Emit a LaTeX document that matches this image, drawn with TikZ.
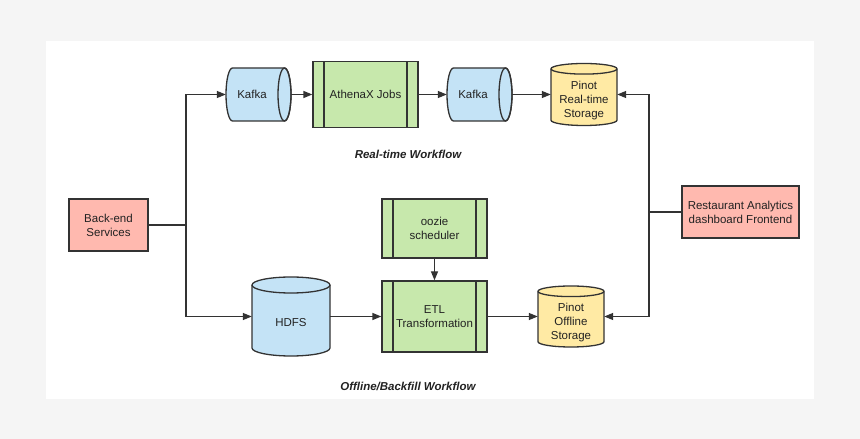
\documentclass[tikz,border=0pt]{standalone}
\usepackage{fontspec}
\setmainfont{Liberation Sans}
\usetikzlibrary{arrows.meta}
\definecolor{bg}{HTML}{F5F5F5}
\definecolor{linec}{HTML}{333333}
\definecolor{txt}{HTML}{222222}
\definecolor{pinkc}{HTML}{FFB9AF}
\definecolor{bluc}{HTML}{C4E3F6}
\definecolor{grnc}{HTML}{C7E8AC}
\definecolor{yelc}{HTML}{FFEAA4}
\tikzset{
  ln/.style={draw=linec, line width=1.3pt},
  cylstyle/.style={draw=linec, line width=1.3pt},
  boxc/.style={ln, rectangle, inner sep=0pt, align=center, text=txt},
  procbox/.style={boxc, fill=grnc, path picture={
    \draw[linec, line width=1.3pt] ([xshift=11pt]path picture bounding box.north west) -- ([xshift=11pt]path picture bounding box.south west);
    \draw[linec, line width=1.3pt] ([xshift=-11pt]path picture bounding box.north east) -- ([xshift=-11pt]path picture bounding box.south east);}},
  conn/.style={ln, -{Triangle[length=9pt,width=7pt]}},
  flowlabel/.style={text=txt, font=\fontsize{11.5}{14}\selectfont\bfseries\itshape}
}
% horizontal cylinder: name, cx, cy, half width, half height, text
\newcommand{\hcylinder}[6]{%
  \begin{scope}[shift={(#2,#3)}]
    \filldraw[cylstyle, fill=bluc] (-#4+6.5,#5) arc[start angle=90,end angle=270,x radius=6.5,y radius=#5] -- (#4-6.5,-#5) arc[start angle=-90,end angle=90,x radius=6.5,y radius=#5] -- cycle;
    \draw[cylstyle] (#4-6.5,0) ellipse[x radius=6.5,y radius=#5];
    \node[inner sep=0pt, minimum width=2*#4, minimum height=2*#5] (#1) at (0,0) {};
    \node[text=txt] (#1-t) at (-6.5,0) {#6};
  \end{scope}}
% vertical cylinder: name, cx, cy, half width, half height, ellipse ry, fill, text
\newcommand{\vcylinder}[8]{%
  \begin{scope}[shift={(#2,#3)}]
    \filldraw[cylstyle, fill=#7] (-#4,#5-#6) -- (-#4,-#5+#6) arc[start angle=180,end angle=360,x radius=#4,y radius=#6] -- (#4,#5-#6) arc[start angle=0,end angle=180,x radius=#4,y radius=#6] -- cycle;
    \draw[cylstyle] (-#4,#5-#6) arc[start angle=180,end angle=360,x radius=#4,y radius=#6];
    \node[inner sep=0pt, minimum width=2*#4, minimum height=2*#5] (#1) at (0,0) {};
    \node[text=txt, align=center] (#1-t) at (0,-6) {#8};
  \end{scope}}
\begin{document}
\begin{tikzpicture}[x=1pt, y=1pt, font=\fontsize{11.5}{14}\selectfont]
\useasboundingbox (0,0) rectangle (860,439);
\fill[bg] (0,0) rectangle (860,439);
\fill[white] (46,40) rectangle (814,398);

% nodes
\node[boxc, fill=pinkc, minimum width=79, minimum height=52] (be) at (108.5,214) {Back-end\\Services};
\node[boxc, fill=pinkc, minimum width=117, minimum height=52] (ra) at (740.5,227) {Restaurant Analytics\\dashboard Frontend};
\hcylinder{k1}{258.5}{344.5}{32.5}{26.5}{Kafka}
\node[procbox, minimum width=105, minimum height=66] (ax) at (365.5,344.5) {AthenaX Jobs};
\hcylinder{k2}{479.5}{344.5}{32.5}{26.5}{Kafka}
\vcylinder{prt}{584}{344.5}{33}{31}{5.3}{yelc}{Pinot\\Real-time\\Storage}
\node[procbox, minimum width=105, minimum height=59] (oz) at (434.5,210.5) {oozie\\scheduler};
\node[procbox, minimum width=105, minimum height=71] (etl) at (434.5,122.5) {ETL\\Transformation};
\vcylinder{hdfs}{291}{122.5}{39}{39.5}{8}{bluc}{HDFS}
\vcylinder{pof}{571}{122.5}{33}{30.5}{5.3}{yelc}{Pinot\\Offline\\Storage}
\node[flowlabel] (rtl) at (408,285) {Real-time Workflow};
\node[flowlabel] (ofl) at (408,53) {Offline/Backfill Workflow};

% connectors
\coordinate (j1) at (186,214);
\coordinate (j2) at (649,227);
\draw[ln] (be.east) -- (j1);
\draw[conn] (j1) |- (k1.west);
\draw[conn] (j1) |- (hdfs.west);
\draw[conn] (k1.east) -- (ax.west);
\draw[conn] (ax.east) -- (k2.west);
\draw[conn] (k2.east) -- (prt.west);
\draw[conn] (hdfs.east) -- (etl.west);
\draw[conn] (etl.east) -- (pof.west);
\draw[conn] (oz.south) -- (etl.north);
\draw[ln] (ra.west) -- (j2);
\draw[conn] (j2) |- (prt.east);
\draw[conn] (j2) |- (pof.east);
\end{tikzpicture}
\end{document}
